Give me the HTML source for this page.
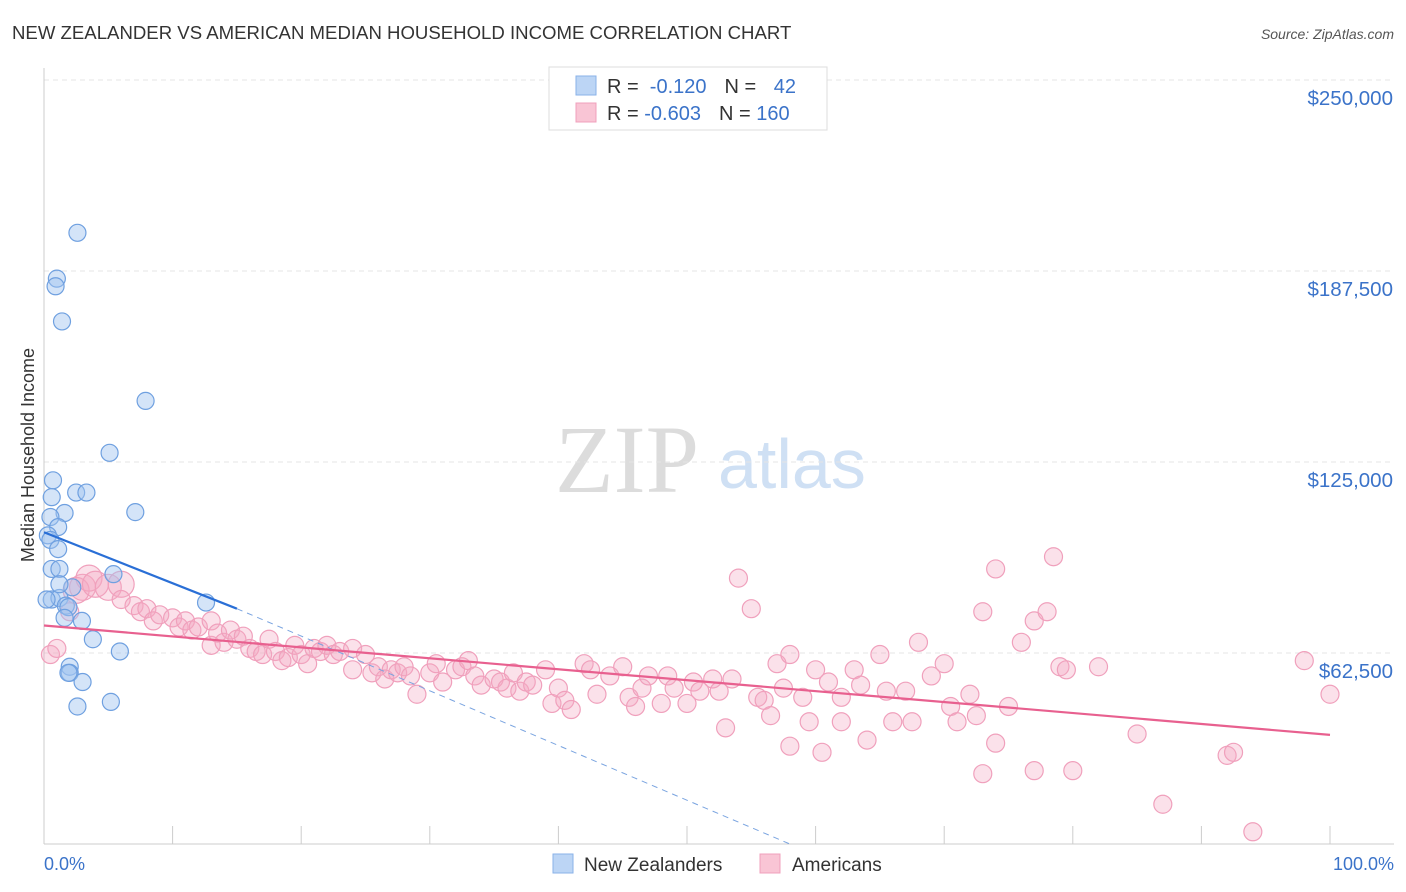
<!DOCTYPE html>
<html><head><meta charset="utf-8">
<style>
body{margin:0;background:#fff;font-family:"Liberation Sans",sans-serif;}
svg{display:block}
</style></head>
<body>
<svg id="c" width="1406" height="892" xmlns="http://www.w3.org/2000/svg">
<text x="12" y="39" font-size="18.6" fill="#333">NEW ZEALANDER VS AMERICAN MEDIAN HOUSEHOLD INCOME CORRELATION CHART</text>
<text x="1394" y="39" font-size="14" fill="#555" font-style="italic" text-anchor="end">Source: ZipAtlas.com</text>
<text x="555" y="492" font-size="96" fill="#dcdcdc" font-family="Liberation Serif,serif">ZIP</text>
<text x="718" y="488" font-size="70" fill="#cfe0f4">atlas</text>
<text transform="translate(34,455) rotate(-90)" font-size="18" fill="#333" text-anchor="middle">Median Household Income</text>
<g id="grid"></g><g id="pts"></g><g id="trend"></g>
<g>
<rect x="549" y="67" width="278" height="63" fill="#fff" stroke="#ddd"/>
<rect x="576" y="76" width="20" height="19" fill="#bcd5f5" stroke="#8ab2e8"/>
<rect x="576" y="103" width="20" height="19" fill="#f9c5d5" stroke="#f0a0bc"/>
<text x="607" y="93" font-size="20" fill="#333">R = <tspan fill="#3b73c9">&#160;-0.120</tspan><tspan dx="18">N = </tspan><tspan fill="#3b73c9" dx="12">42</tspan></text>
<text x="607" y="120" font-size="20" fill="#333">R = <tspan fill="#3b73c9">-0.603</tspan><tspan dx="18">N = </tspan><tspan fill="#3b73c9">160</tspan></text>
</g>
<g>
<rect x="553" y="854" width="20" height="19" fill="#bcd5f5" stroke="#8ab2e8"/>
<text x="584" y="871" font-size="19" fill="#333">New Zealanders</text>
<rect x="760" y="854" width="20" height="19" fill="#f9c5d5" stroke="#f0a0bc"/>
<text x="792" y="871" font-size="19" fill="#333">Americans</text>
</g>
<text x="44" y="870" font-size="18" fill="#3b73c9">0.0%</text>
<text x="1394" y="870" font-size="18" fill="#3b73c9" text-anchor="end">100.0%</text>
</svg>
<script>
const yTicks=[62500,125000,187500,250000];
const yTickLabels=["$62,500","$125,000","$187,500","$250,000"];
const nzX=[2.6,1.0,0.9,1.4,7.9,5.1,0.7,0.6,2.5,3.3,7.1,1.6,0.5,1.1,0.3,0.5,1.1,0.6,1.2,5.4,0.6,1.2,1.7,1.9,12.6,1.6,2.95,3.8,5.9,2.0,2.0,1.9,3.0,2.6,5.2,2.2,1.2,0.2];
const nzY=[200,185,182.5,171,145,128,119,113.5,115,115,108.6,108.3,107,103.7,101,99.5,96.5,90,90,88.3,80,80.5,78,77.5,79,74,73,67,63,58,56,56,53,45,46.5,84,85,80];
const usX=[0.5,1,2,3,2.5,3.5,4,5,6,6,7,7.5,8,8.5,9,10,10.5,11,11.5,12,13,13,13.5,14,14.5,15,15.5,16,16.5,17,17.5,18,18.5,19,19.5,20,20.5,21,21.5,22,22.5,23,24,24,25,25.5,26,26.5,27,27.5,28,28.5,29,30,30.5,31,32,32.5,33,33.5,34,35,35.5,36,36.5,37,37.5,38,39,39.5,40,40.5,41,42,42.5,43,44,45,45.5,46,46.5,47,48,48.5,49,50,50.5,51,52,52.5,53,53.5,54,55,55.5,56,56.5,57,57.5,58,58,59,59.5,60,60.5,61,62,62,63,63.5,64,65,65.5,66,67,67.5,68,69,70,70.5,71,72,72.5,73,73,74,74,75,76,77,77,78,78.5,79,79.5,80,82,85,87,92,92.5,94,98,100];
const usY=[62,64,76,84,83,87,85,84,85,80,78,76,77,73,75,74,71,73,70,71,73,65,69,66,70,67,68,64,63,62,67,63,60,61,65,62,59,64,63,65,62,63,64,57,62,56,58,54,57,56,58,55,49,56,59,53,57,58,60,55,52,54,53,51,56,50,53,52,57,46,51,47,44,59,57,49,55,58,48,45,51,55,46,55,51,46,53,50,54,50,38,54,87,77,48,47,42,59,51,62,32,48,40,57,30,53,40,48,57,52,34,62,50,40,50,40,66,55,59,45,40,49,42,23,76,90,33,45,66,73,24,76,94,58,57,24,58,36,13,29,30,4,60,49];
const nzTrend=[[0,102],[15,77]];
const nzDash=[[15,77],[58,0]];
const usTrend=[[0,71.5],[100,35.7]];
const X=p=>44+p*12.86;
const Y=v=>844-v*1000/62500*191;
const NS="http://www.w3.org/2000/svg";
function mk(t,a,parent){const e=document.createElementNS(NS,t);for(const k in a)e.setAttribute(k,a[k]);parent.appendChild(e);return e;}
const grid=document.getElementById('grid');
yTicks.forEach((v,i)=>{
 const yy=Y(v/1000);
 const l=mk('line',{x1:44,x2:1394,y1:yy,y2:yy,stroke:'#e4e4e4','stroke-dasharray':'5,4'},grid);
 
 
 const t=mk('text',{x:1393,y:yy+25,'font-size':20.5,fill:'#3b73c9','text-anchor':'end'},grid);
 t.textContent=yTickLabels[i];
 
 
});
const ax=mk('line',{x1:44,x2:1394,y1:844,y2:844,stroke:'#ccc'},grid);


const ay=mk('line',{x1:44,x2:44,y1:68,y2:844,stroke:'#ccc'},grid);


for(let i=0;i<=10;i++){
 const tk=mk('line',{x1:X(i*10),x2:X(i*10),y1:826,y2:844,stroke:'#ccc'},grid);
 
 
}
const pts=document.getElementById('pts');
usX.forEach((p,i)=>{
 const big=p<8&&usY[i]>80;
 const c=mk('circle',{cx:X(p),cy:Y(usY[i]),r:big?13:9,fill:'rgba(244,170,196,0.35)',stroke:'#f0a0bc','stroke-width':1.2},pts);
 
 
});
nzX.forEach((p,i)=>{
 const c=mk('circle',{cx:X(p),cy:Y(nzY[i]),r:8.5,fill:'rgba(160,196,240,0.45)',stroke:'#6fa0e0','stroke-width':1.2},pts);
 
 
});
const tr=document.getElementById('trend');
const d=mk('line',{x1:X(nzDash[0][0]),y1:Y(nzDash[0][1]),x2:X(nzDash[1][0]),y2:Y(nzDash[1][1]),stroke:'#7aa4e0','stroke-width':1,'stroke-dasharray':'6,5'},tr);


const b=mk('line',{x1:X(nzTrend[0][0]),y1:Y(nzTrend[0][1]),x2:X(nzTrend[1][0]),y2:Y(nzTrend[1][1]),stroke:'#2a6fd6','stroke-width':2.2},tr);


const u=mk('line',{x1:X(usTrend[0][0]),y1:Y(usTrend[0][1]),x2:X(usTrend[1][0]),y2:Y(usTrend[1][1]),stroke:'#e8608f','stroke-width':2.2},tr);


</script>
</body></html>
